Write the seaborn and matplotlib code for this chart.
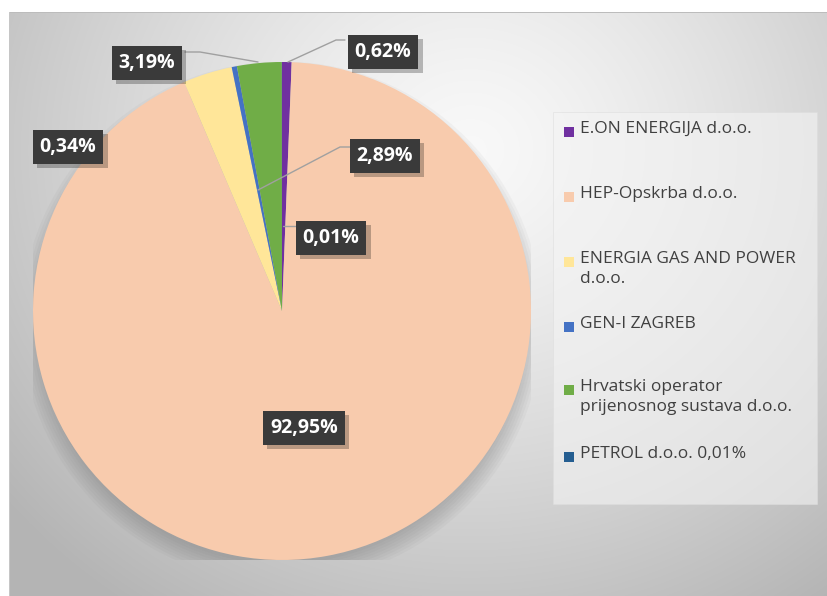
import numpy as np
import matplotlib
matplotlib.use("Agg")
import matplotlib.pyplot as plt
import matplotlib.transforms as mtransforms
import matplotlib.patheffects as pe
from matplotlib.patches import Rectangle, Circle
import seaborn as sns

# data
companies = ["E.ON ENERGIJA d.o.o.", "HEP-Opskrba d.o.o.", "ENERGIA GAS AND POWER\nd.o.o.",
             "GEN-I ZAGREB", "Hrvatski operator\nprijenosnog sustava d.o.o.", "PETROL d.o.o. 0,01%"]
shares = [0.62, 92.95, 3.19, 0.34, 2.89, 0.01]
colors = ["#7030A0", "#F8CBAD", "#FFE699", "#4472C4", "#70AD47", "#255E91"]
label_text = ["0,62%", "92,95%", "3,19%", "0,34%", "2,89%", "0,01%"]

sns.set_theme(style="white")
plt.rcParams["font.family"] = ["Open Sans", "DejaVu Sans"]

W, H = 827, 596
fig = plt.figure(figsize=(W / 100, H / 100), dpi=100)

# background: radial grey gradient, white margin top/left
bg = fig.add_axes([0, 0, 1, 1], zorder=0)
yy, xx = np.mgrid[0:H, 0:W]
d = np.sqrt(((xx - 470) / 500.0) ** 2 + ((yy - 150) / 460.0) ** 2)
val = 0.975 - 0.21 * np.clip(d, 0, 1.2) ** 1.3
img = np.dstack([val, val, val])
img[:12, :, :] = 1.0
img[:, :9, :] = 1.0
img[12, 9:, :] = 0.74
img[12:, 9, :] = 0.78
bg.imshow(img, extent=(0, W, H, 0), aspect="auto", interpolation="bilinear")
bg.set_xlim(0, W)
bg.set_ylim(H, 0)
bg.axis("off")

# pie
cx, cy, r = 282, 311, 249
pa = fig.add_axes([(cx - r) / W, (H - cy - r) / H, 2 * r / W, 2 * r / H], zorder=2)
for i in range(8):
    pa.add_patch(Circle((0.0, -0.045), 0.97 + 0.011 * i,
                        color="#6a6a6a", alpha=0.05, lw=0, zorder=0))
pa.pie(shares, colors=colors, startangle=90, counterclock=False,
       wedgeprops=dict(linewidth=0))
pa.set_xlim(-1, 1)
pa.set_ylim(-1, 1)
pa.set_aspect("equal")
pa.axis("off")

# overlay in pixel coordinates for labels and legend
ov = fig.add_axes([0, 0, 1, 1], zorder=3)
ov.set_xlim(0, W)
ov.set_ylim(H, 0)
ov.axis("off")
ov.patch.set_alpha(0)

lead = "#a0a0a0"
ov.plot([345, 336, 288], [40, 40, 62], color=lead, lw=1)
ov.plot([185, 200, 258], [52, 52, 62], color=lead, lw=1)
ov.plot([350, 340, 258], [147, 147, 190], color=lead, lw=1)
ov.plot([296, 283], [226, 226], color=lead, lw=1)

label_pos = [(383, 52), (304, 428), (147, 63), (68, 147), (385, 156), (331, 238)]
for txt, (x, y) in zip(label_text, label_pos):
    t = ov.text(x, y, txt, ha="center", va="center", fontsize=14, fontweight="bold",
                color="white",
                bbox=dict(boxstyle="square,pad=0.36", fc="#3a3a3a", ec="none"))
    t.get_bbox_patch().set_path_effects(
        [pe.SimplePatchShadow(offset=(3, -3), shadow_rgbFace="black", alpha=0.25), pe.Normal()])

# legend box
ov.add_patch(Rectangle((553, 112), 264, 392, fc="#f4f4f4", ec="#dddddd", lw=0.6, alpha=0.6))
legend_y = [132, 197, 262, 327, 390, 457]
for name, col, y in zip(companies, colors, legend_y):
    ov.add_patch(Rectangle((564, y - 5), 10, 10, fc=col, ec="none"))
    ov.text(580, y, name, ha="left", va="top", fontsize=12.5, color="#404040",
            linespacing=1.3, transform=mtransforms.offset_copy(
                ov.transData, fig=fig, x=0, y=11, units="dots"))

fig.savefig("out.png", dpi=100)
